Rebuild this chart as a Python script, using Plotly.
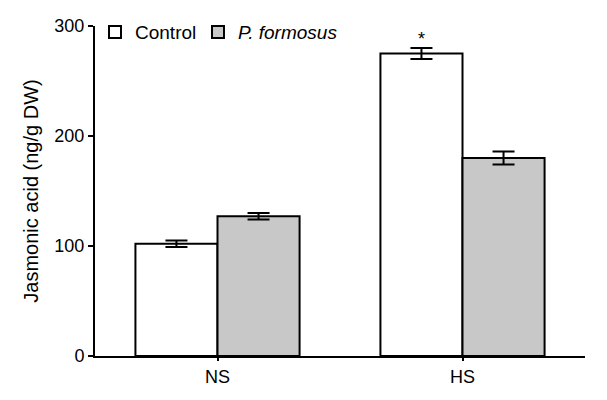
import plotly.graph_objects as go

categories = ["NS", "HS"]
control = [102, 275]
control_err = [3, 5]
formosus = [127, 180]
formosus_err = [3, 6]
y_ticks = [0, 100, 200, 300]

fig = go.Figure()
fig.add_trace(go.Bar(
    x=categories, y=control, name="Control", legend="legend",
    marker=dict(color="white", line=dict(color="black", width=2)),
    error_y=dict(type="data", array=control_err, color="black", thickness=2, width=11),
))
fig.add_trace(go.Bar(
    x=categories, y=formosus, name="<i>P. formosus</i>", legend="legend2",
    marker=dict(color="#c8c8c8", line=dict(color="black", width=2)),
    error_y=dict(type="data", array=formosus_err, color="black", thickness=2, width=11),
))

fig.add_annotation(x=1 - 0.1675, y=control[1] + control_err[1], yanchor="bottom",
                   text="*", showarrow=False, font=dict(size=18, color="black"), yshift=-3)

leg_common = dict(orientation="h", xanchor="left", yanchor="top",
                  y=1.039, font=dict(size=19), bgcolor="rgba(0,0,0,0)")

# the page body adds an 8px offset, so margins are compensated
fig.update_layout(
    width=607, height=400,
    margin=dict(l=87, r=30, t=18, b=52, autoexpand=False),
    plot_bgcolor="white", paper_bgcolor="white",
    barmode="group", bargap=0.33, bargroupgap=0,
    font=dict(family="Liberation Sans, Arial, sans-serif", size=18, color="black"),
    showlegend=True,
    legend=dict(x=0.0, **leg_common),
    legend2=dict(x=0.2102, **leg_common),
)
fig.update_xaxes(
    range=[-0.5, 1.5], showline=True, linecolor="black", linewidth=2,
    ticks="outside", ticklen=3, tickwidth=2, tickcolor="black",
    showgrid=False, tickfont=dict(size=18), automargin=False,
)
fig.update_yaxes(
    range=[0, 300], tickvals=y_ticks, showline=True, linecolor="black", linewidth=2,
    ticks="outside", ticklen=5, tickwidth=2, tickcolor="black", showgrid=False,
    zeroline=False, tickfont=dict(size=18), automargin=False,
    title=dict(text="Jasmonic acid (ng/g DW)", font=dict(size=20), standoff=10),
)

fig.write_html("out.html")
